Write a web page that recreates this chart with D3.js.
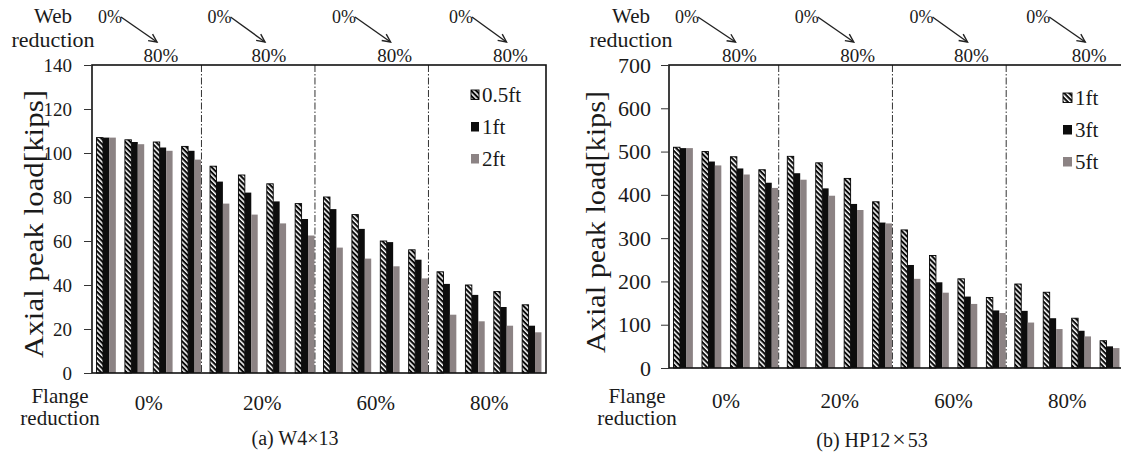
<!DOCTYPE html>
<html><head><meta charset="utf-8">
<script src="https://cdn.jsdelivr.net/npm/d3@7"></script>
<style>
body{margin:0;background:#fff}
svg text{font-family:"Liberation Serif","Tinos","Times New Roman","DejaVu Serif","Noto Serif",serif;fill:#1a1a1a}
</style>
</head><body><svg id="c" width="1121" height="454"></svg>
<script>
// ---------------- data ----------------
const flangeLabels = ["0%", "20%", "60%", "80%"];
const webLabels = ["0%", "80%"];
const clusters = d3.range(16).map(i => "F" + Math.floor(i / 4) + "W" + (i % 4));

const leftSeries = ["0.5ft", "1ft", "2ft"];
const leftTicks = [0, 20, 40, 60, 80, 100, 120, 140];
const left05ft = [107, 106, 105, 103, 94, 90, 86, 77, 80, 72, 60, 56, 46, 40, 37, 31];
const left1ft  = [107, 105, 102.5, 101, 87, 82, 78, 70, 74.5, 65.5, 59.5, 51.5, 40.5, 35.5, 30, 21.5];
const left2ft  = [107, 104, 101, 97, 77, 72, 68, 62.5, 57, 52, 48.5, 43, 26.5, 23.5, 21.5, 18.5];

const rightSeries = ["1ft", "3ft", "5ft"];
const rightTicks = [0, 100, 200, 300, 400, 500, 600, 700];
const right1ft = [510, 500, 488, 458, 489, 474, 438, 384, 319, 260, 206, 163, 194, 175, 115, 63];
const right3ft = [508, 477, 461, 428, 450, 415, 379, 336, 238, 198, 165, 133, 132, 115, 86, 50];
const right5ft = [508, 468, 447, 416, 435, 398, 365, 334, 206, 174, 148, 127, 105, 90, 73, 46];

// ---------------- layout (not data) ----------------
const FONT = '"Liberation Serif","Tinos","Times New Roman","DejaVu Serif","Noto Serif",serif';
const svg = d3.select("#c");
const defs = svg.append("defs");
const hatch = defs.append("pattern").attr("id", "hatch")
  .attr("patternUnits", "userSpaceOnUse").attr("width", 3.6).attr("height", 8)
  .attr("patternTransform", "rotate(-45)");
hatch.append("rect").attr("width", 3.6).attr("height", 8).attr("fill", "#0b0b0b");
hatch.append("rect").attr("width", 1.5).attr("height", 8).attr("fill", "#fff");

const colors = ["url(#hatch)", "#0d0d0d", "#8c8384"];

function txt(g, x, y, s, size, anchor) {
  return g.append("text").attr("x", x).attr("y", y)
    .attr("text-anchor", anchor || "middle").attr("font-size", size)
    .attr("font-family", FONT).text(s);
}

function drawChart(cfg) {
  const x = d3.scaleBand().domain(clusters).range([cfg.x0, cfg.x1])
    .paddingInner(0.32).paddingOuter(0.16);
  const y = d3.scaleLinear().domain([0, cfg.ymax]).range([cfg.yBot, cfg.yTop]);
  const sub = d3.scaleBand().domain(d3.range(3)).range([0, x.bandwidth()]);
  const g = svg.append("g");

  // bars
  cfg.series.forEach((vals, s) => {
    g.append("g").selectAll("rect").data(vals).join("rect")
      .attr("x", (d, i) => x(clusters[i]) + sub(s))
      .attr("width", sub.bandwidth())
      .attr("y", d => y(d))
      .attr("height", d => y(0) - y(d))
      .attr("fill", colors[s])
      .attr("stroke", s === 0 ? "#000" : "none")
      .attr("stroke-width", 0.9);
  });

  // group separators
  [1, 2, 3].forEach(k => {
    const sx = x(clusters[k * 4 - 1]) + x.bandwidth() + 0.5;
    g.append("line").attr("x1", sx).attr("x2", sx)
      .attr("y1", cfg.yTop).attr("y2", cfg.yBot)
      .attr("stroke", "#333").attr("stroke-width", 1)
      .attr("stroke-dasharray", "7,2,1.5,2");
  });

  // frame
  g.append("rect").attr("x", cfg.x0).attr("y", cfg.yTop)
    .attr("width", cfg.x1 - cfg.x0).attr("height", cfg.yBot - cfg.yTop)
    .attr("fill", "none").attr("stroke", "#111").attr("stroke-width", 1.6);

  // y axis
  const ax = g.append("g").attr("transform", `translate(${cfg.x0},0)`)
    .call(d3.axisLeft(y).tickValues(cfg.ticks).tickSize(8).tickPadding(cfg.tickPad));
  ax.attr("font-family", FONT);
  ax.select(".domain").remove();
  ax.selectAll(".tick line").attr("stroke", "#333").attr("stroke-width", 1);
  ax.selectAll(".tick text").attr("font-size", cfg.tickFont)
    .attr("font-family", FONT).attr("fill", "#1a1a1a").attr("dy", "0.32em");

  // y title
  g.append("text")
    .attr("transform", `translate(${cfg.titleX},${cfg.titleY}) rotate(-90)`)
    .attr("text-anchor", "middle").attr("font-size", 27).attr("font-family", FONT)
    .attr("textLength", cfg.titleLen).attr("lengthAdjust", "spacingAndGlyphs")
    .text("Axial peak load[kips]");

  // web reduction annotations
  txt(g, cfg.labelX, 23, "Web", 21);
  txt(g, cfg.labelX, 47, "reduction", 22);
  flangeLabels.forEach((f, k) => {
    const gs = x(clusters[k * 4]) - x.step() * 0.16;
    const x0p = gs + cfg.web0[k], x80 = gs + cfg.web80[k];
    txt(g, x0p, 23, webLabels[0], 18);
    txt(g, x80, 62, webLabels[1], 19);
    const ax1 = x0p + 11, ay1 = 17, ax2 = x80 - 4, ay2 = 42;
    g.append("line").attr("x1", ax1).attr("y1", ay1).attr("x2", ax2).attr("y2", ay2)
      .attr("stroke", "#222").attr("stroke-width", 1.4);
    const ang = Math.atan2(ay2 - ay1, ax2 - ax1);
    const hl = 9, spread = 0.45;
    g.append("path")
      .attr("d", `M${ax2 - hl * Math.cos(ang - spread)},${ay2 - hl * Math.sin(ang - spread)} L${ax2},${ay2} L${ax2 - hl * Math.cos(ang + spread)},${ay2 - hl * Math.sin(ang + spread)}`)
      .attr("fill", "none").attr("stroke", "#222").attr("stroke-width", 1.4);
    // flange category label
    const cx = gs + x.step() * 2;
    txt(g, cx, cfg.catY, f, 21);
  });

  // flange reduction label
  txt(g, cfg.flangeX, 403, "Flange", 21);
  txt(g, cfg.flangeX, 425, "reduction", 21);

  // legend
  cfg.names.forEach((n, s) => {
    const ly = cfg.legY + s * cfg.legGap;
    g.append("rect").attr("x", cfg.legX).attr("y", ly - 5).attr("width", cfg.legW).attr("height", 9.5)
      .attr("fill", colors[s]).attr("stroke", s === 0 ? "#000" : "none").attr("stroke-width", 0.9);
    txt(g, cfg.legX + cfg.legW + 3, ly + 7, n, 21, "start");
  });

  return g;
}

drawChart({
  x0: 92, x1: 546, yTop: 65, yBot: 373, ymax: 140, ticks: leftTicks,
  series: [left05ft, left1ft, left2ft], names: leftSeries,
  tickPad: 12, tickFont: 19, titleX: 43, titleY: 224, titleLen: 268,
  labelX: 53, web0: [18, 14, 25, 28.5], web80: [69, 63.5, 75.6, 78],
  catY: 410, flangeX: 60, legX: 471, legY: 95, legGap: 32, legW: 8
});
drawChart({
  x0: 669, x1: 1124, yTop: 65, yBot: 368, ymax: 700, ticks: rightTicks,
  series: [right1ft, right3ft, right5ft], names: rightSeries,
  tickPad: 10, tickFont: 22, titleX: 605, titleY: 222, titleLen: 262,
  labelX: 631, web0: [18, 24, 25, 28], web80: [70.5, 75, 75, 79],
  catY: 408, flangeX: 637, legX: 1063, legY: 98, legGap: 32, legW: 9
});

// captions
txt(svg, 295, 445, "(a) W4×13", 20);
const cap = txt(svg, 872, 447, "", 20);
cap.append("tspan").text("(b) HP12");
cap.append("tspan").attr("font-size", 24).attr("dx", 2).text("×");
cap.append("tspan").attr("dx", 2).text("53");
</script>
</body></html>
